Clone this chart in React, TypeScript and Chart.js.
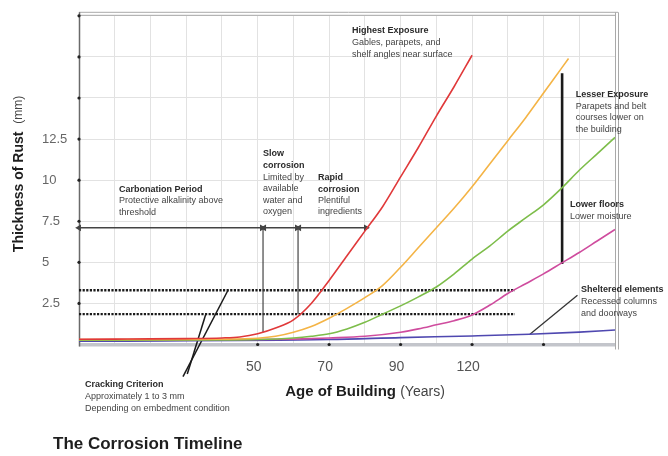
import React, { useEffect, useRef } from "react";
import { Chart, registerables } from "chart.js";
Chart.register(...registerables);

const FONT = '"Liberation Sans", Arial, Helvetica, sans-serif';

// ---- axis ticks ----
const xTickValues = [50, 70, 90, 110];
const xTickLabels = ["50", "70", "90", "120"];
const xTickMarks = [50, 70, 90, 110, 130];
const yTickValues = [2.5, 5, 7.5, 10, 12.5];
const yTickLabels = ["2.5", "5", "7.5", "10", "12.5"];
const yTickMarks = [2.5, 5, 7.5, 10, 12.5, 15, 17.5, 20];

// ---- series (age in years, rust thickness in mm) ----
const highestAges = [0, 10, 20, 30, 40, 45, 50, 55, 60, 65, 70, 75, 80, 85, 90, 95, 100, 105, 110];
const highestValues = [0.32, 0.33, 0.34, 0.36, 0.4, 0.46, 0.65, 1.0, 1.5, 2.5, 3.9, 5.4, 6.9, 8.4, 10.2, 12.0, 13.9, 15.7, 17.6];

const lesserAges = [0, 20, 40, 50, 55, 60, 65, 70, 75, 80, 85, 90, 95, 100, 105, 110, 115, 120, 125, 130, 135, 137];
const lesserValues = [0.3, 0.3, 0.32, 0.38, 0.5, 0.75, 1.1, 1.6, 2.2, 2.85, 3.6, 4.7, 5.9, 7.1, 8.3, 9.6, 11.0, 12.4, 13.8, 15.3, 16.8, 17.4];

const lowerAges = [0, 40, 50, 60, 65, 70, 75, 80, 85, 90, 95, 100, 105, 110, 115, 120, 125, 130, 135, 140, 145, 150];
const lowerValues = [0.26, 0.27, 0.3, 0.4, 0.5, 0.65, 0.95, 1.35, 1.85, 2.35, 2.9, 3.5, 4.3, 5.2, 6.0, 6.9, 7.7, 8.5, 9.5, 10.6, 11.6, 12.6];

const floorsAges = [0, 50, 60, 70, 80, 90, 95, 100, 105, 110, 115, 120, 125, 130, 135, 140, 145, 150];
const floorsValues = [0.28, 0.3, 0.33, 0.4, 0.5, 0.75, 0.95, 1.2, 1.45, 1.8, 2.4, 3.1, 3.7, 4.3, 4.95, 5.6, 6.3, 7.0];

const shelteredAges = [0, 70, 90, 110, 126, 140, 150];
const shelteredValues = [0.2, 0.3, 0.42, 0.52, 0.62, 0.75, 0.88];

// ---- annotation geometry (data units) ----
const periodLevel = 7.1;
const periodSegments = [[0, 51.2], [51.8, 61.0], [61.6, 80.3]];
const slowDropAge = 51.5;
const slowDropEnd = 0.75;
const rapidDropAge = 61.3;
const rapidDropEnd = 1.85;
const crackLevels = [3.3, 1.85];
const crackEndAge = 122;
const crackPointerAges = [[29.1, 41.7], [30.3, 35.5]];
const crackPointerValues = [[-1.95, 3.3], [-1.8, 1.85]];
const rangeAge = 135.2;
const rangeValues = [16.5, 4.9];
const shelterPointerAges = [126.2, 139.5];
const shelterPointerValues = [0.63, 3.0];

const pts = (xs: number[], ys: number[]) => xs.map((x, i) => ({ x, y: ys[i] }));

const notes = [
  { age: 76.4, value: 19.13, gap: 12, lines: ["Highest Exposure", "Gables, parapets, and", "shelf angles near surface"] },
  { age: 139.0, value: 15.21, gap: 11.5, lines: ["Lesser Exposure", "Parapets and belt", "courses lower on", "the building"] },
  { age: 137.4, value: 8.52, gap: 12, lines: ["Lower floors", "Lower moisture"] },
  { age: 140.5, value: 3.34, gap: 12, lines: ["Sheltered elements", "Recessed columns", "and doorways"] },
  { age: 51.5, value: 11.6, gap: 11.6, lines: ["Slow", "corrosion", "Limited by", "available", "water and", "oxygen"] },
  { age: 66.9, value: 10.15, gap: 11.4, lines: ["Rapid", "corrosion", "Plentiful", "ingredients"] },
  { age: 11.2, value: 9.43, gap: 11.3, lines: ["Carbonation Period", "Protective alkalinity above", "threshold"] },
  { age: 1.7, value: -2.44, gap: 12, lines: ["Cracking Criterion", "Approximately 1 to 3 mm", "Depending on embedment condition"] },
];
const boldCount: Record<string, number> = { "Slow": 2, "Rapid": 2 };

const decorPlugin = {
  id: "decor",
  beforeDatasetsDraw(chart: any) {
    const { ctx, chartArea: a } = chart;
    const seg = (x1: number, y1: number, x2: number, y2: number) => {
      ctx.beginPath(); ctx.moveTo(x1, y1); ctx.lineTo(x2, y2); ctx.stroke();
    };
    ctx.save();
    ctx.fillStyle = "#c3c5cb";
    ctx.fillRect(a.left, a.bottom - 1.5, a.right - a.left, 3.5);
    ctx.strokeStyle = "#a9a9a9";
    ctx.lineWidth = 1;
    seg(a.left, a.top - 3.5, a.right + 3, a.top - 3.5);
    seg(a.left, a.top - 0.5, a.right, a.top - 0.5);
    seg(a.right + 0.5, a.top - 3.5, a.right + 0.5, a.bottom + 5);
    seg(a.right + 3.5, a.top - 3.5, a.right + 3.5, a.bottom + 5);
    ctx.strokeStyle = "#6a6a6a";
    ctx.lineWidth = 1.5;
    seg(a.left + 0.5, a.top - 3.5, a.left + 0.5, a.bottom + 2);
    ctx.restore();
  },
  afterDraw(chart: any) {
    const { ctx } = chart;
    const xs = chart.scales.x, ys = chart.scales.y;
    ctx.save();
    ctx.textBaseline = "middle";
    ctx.textAlign = "left";
    for (const n of notes) {
      const x = xs.getPixelForValue(n.age);
      const y0 = ys.getPixelForValue(n.value);
      const nb = boldCount[n.lines[0]] ?? 1;
      n.lines.forEach((t, i) => {
        ctx.font = (i < nb ? "bold " : "") + "9px " + FONT;
        ctx.fillStyle = i < nb ? "#2a2a2a" : "#444";
        ctx.fillText(t, x, y0 + i * n.gap);
      });
    }
    // x axis title
    ctx.font = "bold 15px " + FONT;
    const a1 = "Age of Building ";
    const w1 = ctx.measureText(a1).width;
    ctx.font = "14px " + FONT;
    const a2 = "(Years)";
    const w2 = ctx.measureText(a2).width;
    const cx = 365;
    let sx = cx - (w1 + w2) / 2;
    ctx.fillStyle = "#1e1e1e";
    ctx.font = "bold 15px " + FONT;
    ctx.fillText(a1, sx, 392);
    ctx.fillStyle = "#444";
    ctx.font = "14px " + FONT;
    ctx.fillText(a2, sx + w1, 392);
    // y axis title
    ctx.save();
    ctx.translate(19, 174);
    ctx.rotate(-Math.PI / 2);
    ctx.font = "bold 14px " + FONT;
    const b1 = "Thickness of Rust  ";
    const v1 = ctx.measureText(b1).width;
    ctx.font = "12px " + FONT;
    const b2 = "(mm)";
    const v2 = ctx.measureText(b2).width;
    sx = -(v1 + v2) / 2;
    ctx.fillStyle = "#1e1e1e";
    ctx.font = "bold 14px " + FONT;
    ctx.fillText(b1, sx, 0);
    ctx.fillStyle = "#444";
    ctx.font = "12px " + FONT;
    ctx.fillText(b2, sx + v1, 0);
    ctx.restore();
    // main title
    ctx.fillStyle = "#1e1e1e";
    ctx.font = "bold 17px " + FONT;
    ctx.fillText("The Corrosion Timeline", 53, 444);
    ctx.restore();
  },
};

const curve = (label: string, xs: number[], ys: number[], color: string) => ({
  label,
  data: pts(xs, ys),
  borderColor: color,
  borderWidth: 1.6,
  pointRadius: 0,
  cubicInterpolationMode: "monotone" as const,
  fill: false,
});

const guide = (data: any[], color: string, width: number, extra: any = {}) => ({
  data,
  borderColor: color,
  backgroundColor: color,
  borderWidth: width,
  pointRadius: 0,
  tension: 0,
  fill: false,
  ...extra,
});

export default function App() {
  const ref = useRef<HTMLCanvasElement | null>(null);
  useEffect(() => {
    if (!ref.current) return;
    const datasets: any[] = [
      curve("Highest Exposure", highestAges, highestValues, "#e0393a"),
      curve("Lesser Exposure", lesserAges, lesserValues, "#f4b446"),
      curve("Lower floors", lowerAges, lowerValues, "#7dbd4a"),
      curve("Lower moisture", floorsAges, floorsValues, "#cf4c9e"),
      curve("Sheltered elements", shelteredAges, shelteredValues, "#4f48b0"),
    ];
    periodSegments.forEach((s) => {
      datasets.push(guide(pts(s, [periodLevel, periodLevel]), "#444", 1.5, {
        pointRadius: 2.4, pointStyle: "triangle", pointRotation: [-90, 90], clip: false,
      }));
    });
    datasets.push(guide(pts([slowDropAge, slowDropAge], [periodLevel, slowDropEnd]), "#444", 1.2));
    datasets.push(guide(pts([rapidDropAge, rapidDropAge], [periodLevel, rapidDropEnd]), "#444", 1.2));
    crackLevels.forEach((lv) => {
      datasets.push(guide(pts([0, crackEndAge], [lv, lv]), "#1a1a1a", 2.4, { borderDash: [2.2, 1.4], clip: false }));
    });
    crackPointerAges.forEach((xsA, i) => {
      datasets.push(guide(pts(xsA, crackPointerValues[i]), "#1a1a1a", 1.5, { clip: false }));
    });
    datasets.push(guide(pts([rangeAge, rangeAge], rangeValues), "#1a1a1a", 2.6));
    datasets.push(guide(pts(shelterPointerAges, shelterPointerValues), "#333", 1.3, { clip: false }));
    datasets.push(guide(yTickMarks.map((v) => ({ x: 0, y: v })), "#222", 0, {
      showLine: false, pointRadius: 1.6, clip: false,
    }));
    datasets.push(guide(xTickMarks.map((v) => ({ x: v, y: 0 })), "#222", 0, {
      showLine: false, pointRadius: 1.6, clip: false,
    }));

    const chart = new Chart(ref.current, {
      type: "line",
      data: { datasets },
      options: {
        responsive: false,
        animation: false,
        events: [],
        layout: { padding: { left: 42, right: 53, top: 12.5, bottom: 0 } },
        plugins: { legend: { display: false }, tooltip: { enabled: false }, title: { display: false } },
        scales: {
          x: {
            type: "linear",
            min: 0,
            max: 150,
            border: { display: false },
            grid: { color: "#e2e2e2", lineWidth: 1, drawTicks: false },
            afterFit: (s: any) => { s.height = 111.5; },
            ticks: {
              stepSize: 10,
              padding: 14,
              labelOffset: -4,
              maxRotation: 0,
              autoSkip: false,
              color: "#555",
              font: { family: FONT, size: 14 },
              callback: (v: any) => {
                const i = xTickValues.indexOf(Number(v));
                return i >= 0 ? xTickLabels[i] : "";
              },
            },
          },
          y: {
            type: "linear",
            min: 0,
            max: 20,
            border: { display: false },
            grid: { color: "#e2e2e2", lineWidth: 1, drawTicks: false },
            afterFit: (s: any) => { s.width = 37; },
            ticks: {
              stepSize: 2.5,
              crossAlign: "far",
              padding: 8,
              autoSkip: false,
              color: "#666",
              font: { family: FONT, size: 13 },
              callback: (v: any) => {
                const i = yTickValues.indexOf(Number(v));
                return i >= 0 ? yTickLabels[i] : "";
              },
            },
          },
        },
      },
      plugins: [decorPlugin],
    } as any);
    return () => chart.destroy();
  }, []);
  return (
    <div style={{ position: "absolute", left: 0, top: 0, width: 668, height: 456, background: "#fff" }}>
      <canvas ref={ref} width={668} height={456} style={{ display: "block" }} />
    </div>
  );
}
